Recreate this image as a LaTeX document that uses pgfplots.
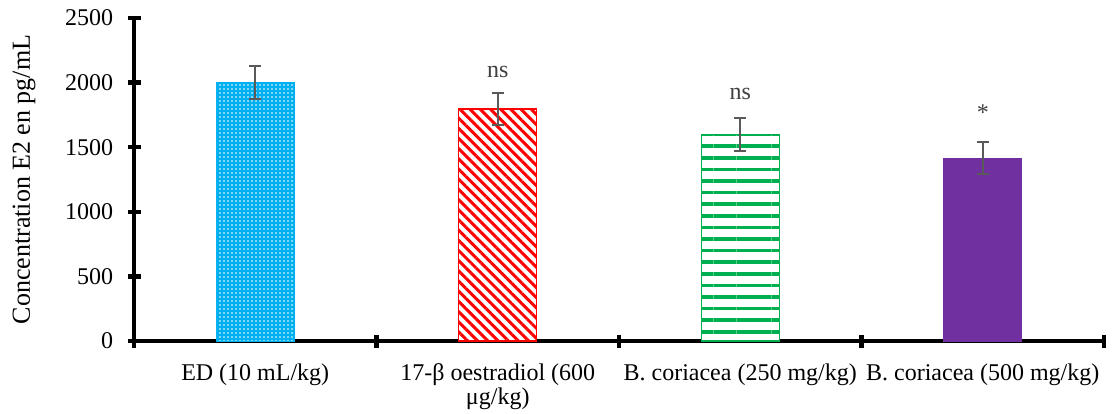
\documentclass[border=0pt,12pt]{standalone}
\usepackage{pgfplots}
\pgfplotsset{compat=1.18}
\usetikzlibrary{patterns.meta}
\usepackage{fontspec}
\setmainfont{Liberation Serif}
\definecolor{cBlue}{HTML}{00B0F0}
\definecolor{cRed}{HTML}{FF0000}
\definecolor{cGreen}{HTML}{00B050}
\definecolor{cPurple}{HTML}{7030A0}
\definecolor{cErr}{HTML}{5A5A5A}
\definecolor{cTxt}{HTML}{404040}
\begin{document}
\begin{tikzpicture}
\path[use as bounding box] (0,0) rectangle (558.5pt,206.5pt);
\begin{axis}[
  at={(67pt,36pt)}, anchor=south west,
  scale only axis, width=485pt, height=161.5pt,
  xmin=0.5, xmax=4.5, ymin=0, ymax=2500,
  axis x line=bottom, axis y line=left,
  axis line style={-, line width=2.2pt, black},
  ytick={0,500,...,2500},
  xtick={1,2,3,4},
  xticklabels={ED (10 mL/kg), {17-β oestradiol (600\\μg/kg)}, B. coriacea (250 mg/kg), B. coriacea (500 mg/kg)},
  minor xtick={0.5,1.5,2.5,3.5,4.5},
  tick align=center,
  major tick length=6.5pt, minor tick length=6.5pt,
  major x tick style={draw=none},
  every tick/.style={black, line width=2.2pt},
  minor tick style={black, line width=2.2pt},
  xticklabel style={align=center, yshift=-4pt, font=\fontsize{12}{12}\selectfont},
  yticklabel style={xshift=-3pt},
  /pgf/number format/assume math mode=true,
  /pgf/number format/1000 sep={},
  ylabel={Concentration E2 en pg/mL},
  ylabel style={at={(axis description cs:-0.1134,0.5)}, rotate=0, anchor=center, font=\fontsize{13}{13}\selectfont},
  bar width=39pt,
  clip=false,
]
\addplot[ybar, draw=cBlue, fill=cBlue, postaction={pattern={Dots[distance=2pt, radius=0.45pt]}, pattern color=white},
  error bars/.cd, y dir=both, y explicit, error mark options={rotate=90, mark size=3pt, line width=1pt, cErr}, error bar style={line width=1pt, cErr}]
  coordinates {(1,2000) +- (0,127)};
\addplot[ybar, draw=cRed, line width=0.6pt, fill=white, postaction={pattern={Lines[angle=-45, distance=3.6pt, line width=1.5pt]}, pattern color=cRed},
  error bars/.cd, y dir=both, y explicit, error mark options={rotate=90, mark size=3pt, line width=1pt, cErr}, error bar style={line width=1pt, cErr}]
  coordinates {(2,1795) +- (0,127)};
\addplot[ybar, draw=cGreen, line width=0.6pt, fill=white, postaction={pattern={Lines[angle=0, distance=5.8pt, line width=1.8pt]}, pattern color=cGreen},
  error bars/.cd, y dir=both, y explicit, error mark options={rotate=90, mark size=3pt, line width=1pt, cErr}, error bar style={line width=1pt, cErr}]
  coordinates {(3,1598) +- (0,128)};
\addplot[ybar, draw=cPurple, fill=cPurple,
  error bars/.cd, y dir=both, y explicit, error mark options={rotate=90, mark size=3pt, line width=1pt, cErr}, error bar style={line width=1pt, cErr}]
  coordinates {(4,1415) +- (0,125)};
\node[anchor=base, text=cTxt, inner sep=0pt] at (axis cs:2,2043) {ns};
\node[anchor=base, text=cTxt, inner sep=0pt] at (axis cs:3,1873) {ns};
\node[anchor=base, text=cTxt, inner sep=0pt] at (axis cs:4,1703) {*};
\end{axis}
\end{tikzpicture}
\end{document}
